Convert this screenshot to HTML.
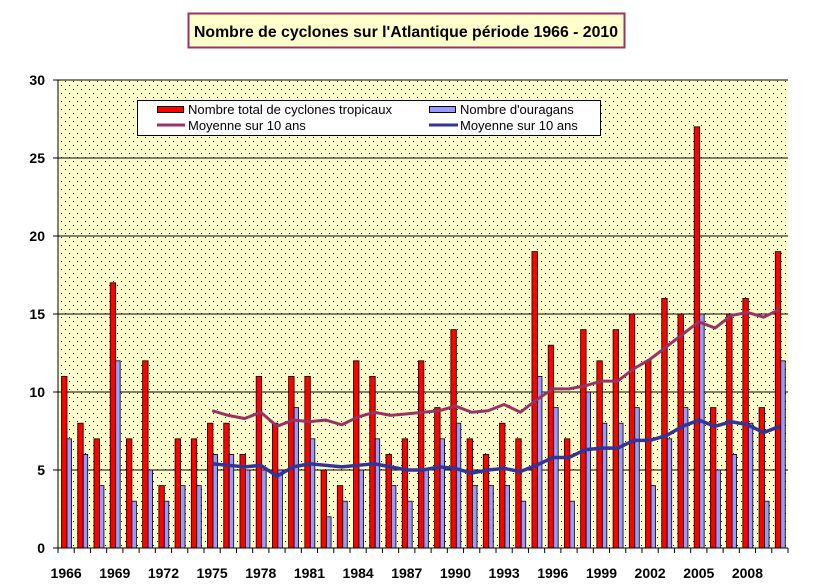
<!DOCTYPE html>
<html><head><meta charset="utf-8"><style>
body{margin:0;background:#fff;}
svg{display:block;font-family:"Liberation Sans",Arial,sans-serif;}
</style></head><body>
<svg id="c" width="831" height="585" xmlns="http://www.w3.org/2000/svg">
<defs>
<pattern id="dots" width="8" height="8" patternUnits="userSpaceOnUse">
<rect width="8" height="8" fill="#ffffcc"/>
<rect x="1" y="1" width="1" height="1" fill="#000"/>
<rect x="5" y="5" width="1" height="1" fill="#000"/>
</pattern>
</defs>
<rect x="58" y="80" width="730" height="468" fill="url(#dots)"/>
<g id="g"></g>
<rect x="188.5" y="13.5" width="436" height="34" fill="#ffffcc" stroke="#993366" stroke-width="2"/>
<text x="406" y="37" text-anchor="middle" font-size="16" font-weight="bold" textLength="424" lengthAdjust="spacingAndGlyphs">Nombre de cyclones sur l'Atlantique période 1966 - 2010</text>
<rect x="137.5" y="100.5" width="463" height="35" fill="#fff" stroke="#000"/>
<rect x="157.5" y="106.5" width="26" height="6" fill="#f00" stroke="#000"/>
<text x="188" y="114" font-size="13" textLength="204" lengthAdjust="spacingAndGlyphs">Nombre total de cyclones tropicaux</text>
<line x1="157" y1="125" x2="185" y2="125" stroke="#993366" stroke-width="3"/>
<text x="188" y="130" font-size="13">Moyenne sur 10 ans</text>
<rect x="429.5" y="106.5" width="26" height="6" fill="#9999ff" stroke="#000"/>
<text x="460" y="114" font-size="13">Nombre d'ouragans</text>
<line x1="429" y1="125" x2="458" y2="125" stroke="#333399" stroke-width="3"/>
<text x="460" y="130" font-size="13">Moyenne sur 10 ans</text>
</svg>
<script>
var T=[11,8,7,17,7,12,4,7,7,8,8,6,11,8,11,11,5,4,12,11,6,7,12,9,14,7,6,8,7,19,13,7,14,12,14,15,12,16,15,27,9,15,16,9,19];
var H=[7,6,4,12,3,5,3,4,4,6,6,5,5,5,9,7,2,3,5,7,4,3,5,7,8,4,4,4,3,11,9,3,10,8,8,9,4,7,9,15,5,6,8,3,12];
var s='',W=730/45,y0=548,k=15.6;
function Y(v){return y0-v*k;}
for(var v=5;v<=30;v+=5){s+='<line x1="58" x2="788" y1="'+Y(v)+'" y2="'+Y(v)+'" stroke="#000"/>';}
for(var v=0;v<=30;v+=5){s+='<text x="45" y="'+(Y(v)+5)+'" text-anchor="end" font-size="14" font-weight="bold">'+v+'</text>';s+='<line x1="53" x2="58" y1="'+Y(v)+'" y2="'+Y(v)+'" stroke="#000"/>';}
for(var i=0;i<45;i++){var x=58+i*W;
s+='<rect x="'+(x+3.5)+'" y="'+Y(T[i])+'" width="5.5" height="'+(T[i]*k)+'" fill="#f00" stroke="#000" stroke-width="0.8"/>';
s+='<rect x="'+(x+9)+'" y="'+Y(H[i])+'" width="4.5" height="'+(H[i]*k)+'" fill="#9999ff" stroke="#000" stroke-width="0.8"/>';}
var pt='',ph='';
for(var i=9;i<45;i++){var a=0,b=0;for(var j=i-9;j<=i;j++){a+=T[j];b+=H[j];}var x=58+(i+0.5)*W;pt+=x+','+Y(a/10)+' ';ph+=x+','+Y(b/10)+' ';}
s+='<polyline points="'+pt+'" fill="none" stroke="#993366" stroke-width="3"/>';
s+='<polyline points="'+ph+'" fill="none" stroke="#333399" stroke-width="3.5"/>';
s+='<line x1="58" x2="58" y1="80" y2="548" stroke="#000"/><line x1="58" x2="788" y1="548" y2="548" stroke="#000"/>';
for(var i=0;i<=45;i++){var x=58+i*W;s+='<line x1="'+x+'" x2="'+x+'" y1="548" y2="553" stroke="#000"/>';}
for(var i=0;i<45;i+=3){var x=58+(i+0.5)*W;s+='<text x="'+x+'" y="578" text-anchor="middle" font-size="14" font-weight="bold">'+(1966+i)+'</text>';}
document.getElementById('g').innerHTML=s;
</script>
</body></html>
